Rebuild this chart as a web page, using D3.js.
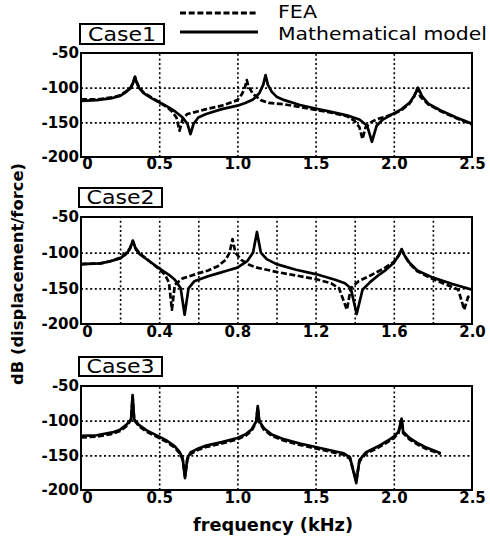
<!DOCTYPE html>
<html><head><meta charset="utf-8">
<script src="https://cdn.jsdelivr.net/npm/d3@7"></script>
<style>
body{margin:0;background:#fff;}
svg{display:block;}
text{font-family:"DejaVu Sans","Liberation Sans",sans-serif;fill:#000;}
</style></head><body>
<svg id="chart" width="490" height="539"></svg>
<script>
// ---------- data ----------
const caseLabels = ["Case1", "Case2", "Case3"];
const seriesNames = ["FEA", "Mathematical model"];
const yTicks = [-50, -100, -150, -200];
const yTickLabels = ["-50", "-100", "-150", "-200"];
const xTicks1 = [0, 0.5, 1.0, 1.5, 2.0, 2.5];
const xTickLabels1 = ["0", "0.5", "1.0", "1.5", "2.0", "2.5"];
const xGrid1 = [0.5, 1.0, 1.5, 2.0];
const xTicks2 = [0, 0.4, 0.8, 1.2, 1.6, 2.0];
const xTickLabels2 = ["0", "0.4", "0.8", "1.2", "1.6", "2.0"];
const xGrid2 = [0.2, 0.4, 0.6, 0.8, 1.0, 1.2, 1.4, 1.6, 1.8];
const yGrid = [-100, -150];
const xTitle = "frequency (kHz)";
const yTitle = "dB (displacement/force)";

// [frequency kHz, dB]
const case1FEA = [[0,-117],[0.1,-117],[0.2,-114],[0.25,-111],[0.29,-105],[0.32,-99],[0.335,-91],[0.345,-85],[0.355,-91],[0.37,-99],[0.4,-107],[0.45,-114],[0.5,-121],[0.55,-128],[0.58,-134],[0.61,-143],[0.63,-162],[0.65,-145],[0.68,-138],[0.75,-134],[0.8,-131],[0.9,-126],[0.95,-122],[1.0,-118],[1.03,-109],[1.05,-98],[1.06,-89],[1.07,-98],[1.1,-109],[1.15,-118],[1.2,-122],[1.3,-124],[1.4,-128],[1.5,-132],[1.6,-136],[1.7,-141],[1.75,-148],[1.78,-157],[1.80,-174],[1.82,-157],[1.86,-149],[1.9,-145],[2.0,-138],[2.05,-132],[2.1,-123],[2.13,-113],[2.15,-101],[2.17,-113],[2.22,-124],[2.3,-134],[2.4,-144],[2.5,-153]];
const case1Model = [[0,-119],[0.1,-118],[0.2,-115],[0.25,-112],[0.29,-106],[0.32,-100],[0.335,-92],[0.345,-84],[0.355,-92],[0.37,-100],[0.4,-108],[0.45,-115],[0.5,-121],[0.55,-127],[0.6,-134],[0.65,-143],[0.68,-152],[0.7,-167],[0.72,-152],[0.75,-143],[0.8,-138],[0.9,-131],[1.0,-126],[1.05,-122],[1.1,-117],[1.14,-108],[1.165,-96],[1.18,-82],[1.195,-96],[1.22,-106],[1.25,-113],[1.3,-118],[1.4,-125],[1.5,-130],[1.6,-135],[1.7,-140],[1.78,-146],[1.83,-155],[1.86,-178],[1.89,-155],[1.93,-146],[2.0,-137],[2.05,-131],[2.1,-122],[2.13,-112],[2.155,-100],[2.18,-112],[2.22,-123],[2.3,-133],[2.4,-143],[2.5,-152]];

const case2FEA = [[0,-116],[0.1,-115],[0.15,-112],[0.2,-107],[0.23,-101],[0.25,-94],[0.265,-84],[0.28,-94],[0.3,-101],[0.35,-112],[0.4,-123],[0.43,-131],[0.45,-142],[0.465,-180],[0.48,-145],[0.52,-136],[0.6,-129],[0.65,-125],[0.7,-119],[0.74,-110],[0.76,-100],[0.775,-81],[0.79,-100],[0.82,-110],[0.86,-117],[0.9,-121],[1.0,-127],[1.1,-132],[1.2,-137],[1.28,-143],[1.32,-150],[1.36,-180],[1.38,-150],[1.42,-140],[1.48,-132],[1.55,-122],[1.6,-113],[1.625,-104],[1.64,-96],[1.655,-104],[1.68,-115],[1.72,-126],[1.8,-137],[1.88,-146],[1.93,-152],[1.96,-180],[1.98,-162],[2.0,-160]];
const case2Model = [[0,-116],[0.1,-115],[0.15,-112],[0.2,-108],[0.23,-102],[0.25,-95],[0.265,-83],[0.28,-95],[0.3,-102],[0.35,-112],[0.4,-122],[0.45,-131],[0.48,-138],[0.51,-150],[0.53,-187],[0.55,-150],[0.58,-140],[0.65,-133],[0.7,-129],[0.75,-125],[0.8,-121],[0.85,-112],[0.88,-100],[0.9,-71],[0.92,-100],[0.95,-109],[1.0,-116],[1.1,-124],[1.2,-130],[1.3,-138],[1.35,-143],[1.38,-150],[1.41,-186],[1.44,-152],[1.48,-141],[1.52,-132],[1.56,-124],[1.6,-114],[1.625,-104],[1.64,-95],[1.655,-104],[1.68,-114],[1.72,-125],[1.8,-135],[1.9,-144],[2.0,-152]];

const case3FEA = [[0,-124],[0.1,-123],[0.2,-119],[0.25,-115],[0.29,-108],[0.32,-99],[0.33,-66],[0.34,-99],[0.37,-108],[0.42,-116],[0.5,-125],[0.55,-131],[0.6,-139],[0.63,-147],[0.65,-156],[0.665,-180],[0.68,-156],[0.7,-148],[0.75,-142],[0.8,-138],[0.9,-133],[1.0,-127],[1.05,-122],[1.09,-115],[1.12,-102],[1.13,-81],[1.14,-102],[1.17,-113],[1.22,-122],[1.3,-129],[1.4,-135],[1.5,-140],[1.6,-145],[1.68,-149],[1.72,-155],[1.76,-186],[1.78,-159],[1.82,-148],[1.9,-139],[1.96,-131],[2.0,-125],[2.03,-118],[2.05,-99],[2.06,-118],[2.1,-127],[2.15,-134],[2.2,-140],[2.3,-148]];
const case3Model = [[0,-122],[0.1,-121],[0.2,-117],[0.25,-113],[0.29,-106],[0.32,-98],[0.33,-63],[0.34,-98],[0.37,-106],[0.42,-114],[0.5,-123],[0.55,-129],[0.6,-137],[0.63,-145],[0.65,-154],[0.665,-183],[0.68,-154],[0.7,-146],[0.75,-140],[0.8,-136],[0.9,-131],[1.0,-125],[1.05,-120],[1.09,-113],[1.12,-101],[1.13,-79],[1.14,-101],[1.17,-111],[1.22,-120],[1.3,-127],[1.4,-133],[1.5,-138],[1.6,-143],[1.68,-147],[1.72,-153],[1.76,-190],[1.78,-157],[1.82,-146],[1.9,-137],[1.96,-129],[2.0,-123],[2.03,-116],[2.05,-97],[2.06,-116],[2.1,-125],[2.15,-132],[2.2,-138],[2.3,-147]];

// ---------- layout ----------
const svg = d3.select("#chart");
const plotLeft = 81, plotRight = 472;
const panels = [
  {label: caseLabels[0], fea: case1FEA, model: case1Model, xMax: 2.5, ticks: xTicks1, tickLabels: xTickLabels1, grid: xGrid1, top: 53, bottom: 157, box: [80, 24, 84, 20], pad: 1},
  {label: caseLabels[1], fea: case2FEA, model: case2Model, xMax: 2.0, ticks: xTicks2, tickLabels: xTickLabels2, grid: xGrid2, top: 217, bottom: 324, box: [79, 188, 83, 19], pad: 2},
  {label: caseLabels[2], fea: case3FEA, model: case3Model, xMax: 2.5, ticks: xTicks1, tickLabels: xTickLabels1, grid: xGrid1, top: 386, bottom: 490, box: [79, 357, 83, 19], pad: 2}
];

panels.forEach((p, k) => {
  const x = d3.scaleLinear().domain([0, p.xMax]).range([plotLeft, plotRight]);
  const y = d3.scaleLinear().domain([-200, -50]).range([p.bottom, p.top]);
  const g = svg.append("g");
  const h = p.bottom - p.top, w = plotRight - plotLeft;

  // grid
  const gx = g.append("g").attr("transform", `translate(0,${p.bottom})`)
    .call(d3.axisBottom(x).tickValues(p.grid).tickSize(-h).tickFormat(""));
  gx.select(".domain").remove();
  const gy = g.append("g").attr("transform", `translate(${plotLeft},0)`)
    .call(d3.axisLeft(y).tickValues(yGrid).tickSize(-w).tickFormat(""));
  gy.select(".domain").remove();
  g.selectAll(".tick line").attr("stroke", "#000").attr("stroke-width", 1.6).attr("stroke-dasharray", "2,2.6");

  // curves
  const clipId = "clip" + k;
  g.append("clipPath").attr("id", clipId).append("rect")
    .attr("x", plotLeft).attr("y", p.top).attr("width", w).attr("height", h);
  const line = d3.line().x(d => x(d[0])).y(d => y(d[1]));
  g.append("path").datum(p.fea).attr("clip-path", `url(#${clipId})`)
    .attr("d", line).attr("fill", "none").attr("stroke", "#000").attr("stroke-width", 2.7)
    .attr("stroke-dasharray", "6,2.5").attr("stroke-linejoin", "round");
  g.append("path").datum(p.model).attr("clip-path", `url(#${clipId})`)
    .attr("d", line).attr("fill", "none").attr("stroke", "#000").attr("stroke-width", 2.7)
    .attr("stroke-linejoin", "round");

  // frame
  g.append("rect").attr("x", plotLeft).attr("y", p.top).attr("width", w).attr("height", h)
    .attr("fill", "none").attr("stroke", "#000").attr("stroke-width", 2);

  // tick labels
  const ay = g.append("g").attr("transform", `translate(${plotLeft},0)`)
    .call(d3.axisLeft(y).tickValues(yTicks).tickFormat((d, i) => yTickLabels[i]).tickSize(0).tickPadding(2));
  ay.select(".domain").remove();
  ay.selectAll("text").attr("font-family", "DejaVu Sans").attr("font-size", 15).attr("font-weight", "bold").attr("fill", "#000");
  const ax = g.append("g").attr("transform", `translate(0,${p.bottom})`)
    .call(d3.axisBottom(x).tickValues(p.ticks).tickFormat((d, i) => p.tickLabels[i]).tickSize(0).tickPadding(p.pad));
  ax.select(".domain").remove();
  ax.selectAll("text").attr("font-family", "DejaVu Sans").attr("font-size", 15).attr("font-weight", "bold").attr("fill", "#000")
    .attr("dx", d => d === 0 ? 6 : 0);

  // case label box
  const [bx, by, bw, bh] = p.box;
  g.append("rect").attr("x", bx).attr("y", by).attr("width", bw).attr("height", bh)
    .attr("fill", "#fff").attr("stroke", "#000").attr("stroke-width", 2);
  g.append("text").attr("x", bx + bw / 2).attr("y", by + bh - 3.5).attr("text-anchor", "middle")
    .attr("font-size", 19).attr("textLength", 68).attr("lengthAdjust", "spacingAndGlyphs")
    .text(p.label);
});

// legend
const lg = svg.append("g");
lg.append("line").attr("x1", 180).attr("x2", 258).attr("y1", 13).attr("y2", 13)
  .attr("stroke", "#000").attr("stroke-width", 3).attr("stroke-dasharray", "6,2.7");
lg.append("text").attr("x", 278).attr("y", 18).attr("font-size", 18)
  .attr("textLength", 39).attr("lengthAdjust", "spacingAndGlyphs").text(seriesNames[0]);
lg.append("line").attr("x1", 180).attr("x2", 258).attr("y1", 32).attr("y2", 32)
  .attr("stroke", "#000").attr("stroke-width", 3);
lg.append("text").attr("x", 278).attr("y", 40).attr("font-size", 18)
  .attr("textLength", 209).attr("lengthAdjust", "spacingAndGlyphs").text(seriesNames[1]);

// axis titles
svg.append("text").attr("x", 273).attr("y", 531).attr("text-anchor", "middle")
  .attr("font-size", 17).attr("font-weight", "bold")
  .attr("textLength", 160).attr("lengthAdjust", "spacingAndGlyphs").text(xTitle);
svg.append("text").attr("transform", "translate(23,274) rotate(-90)").attr("text-anchor", "middle")
  .attr("font-size", 16).attr("font-weight", "bold")
  .attr("textLength", 222).attr("lengthAdjust", "spacingAndGlyphs").text(yTitle);
</script>
</body></html>
